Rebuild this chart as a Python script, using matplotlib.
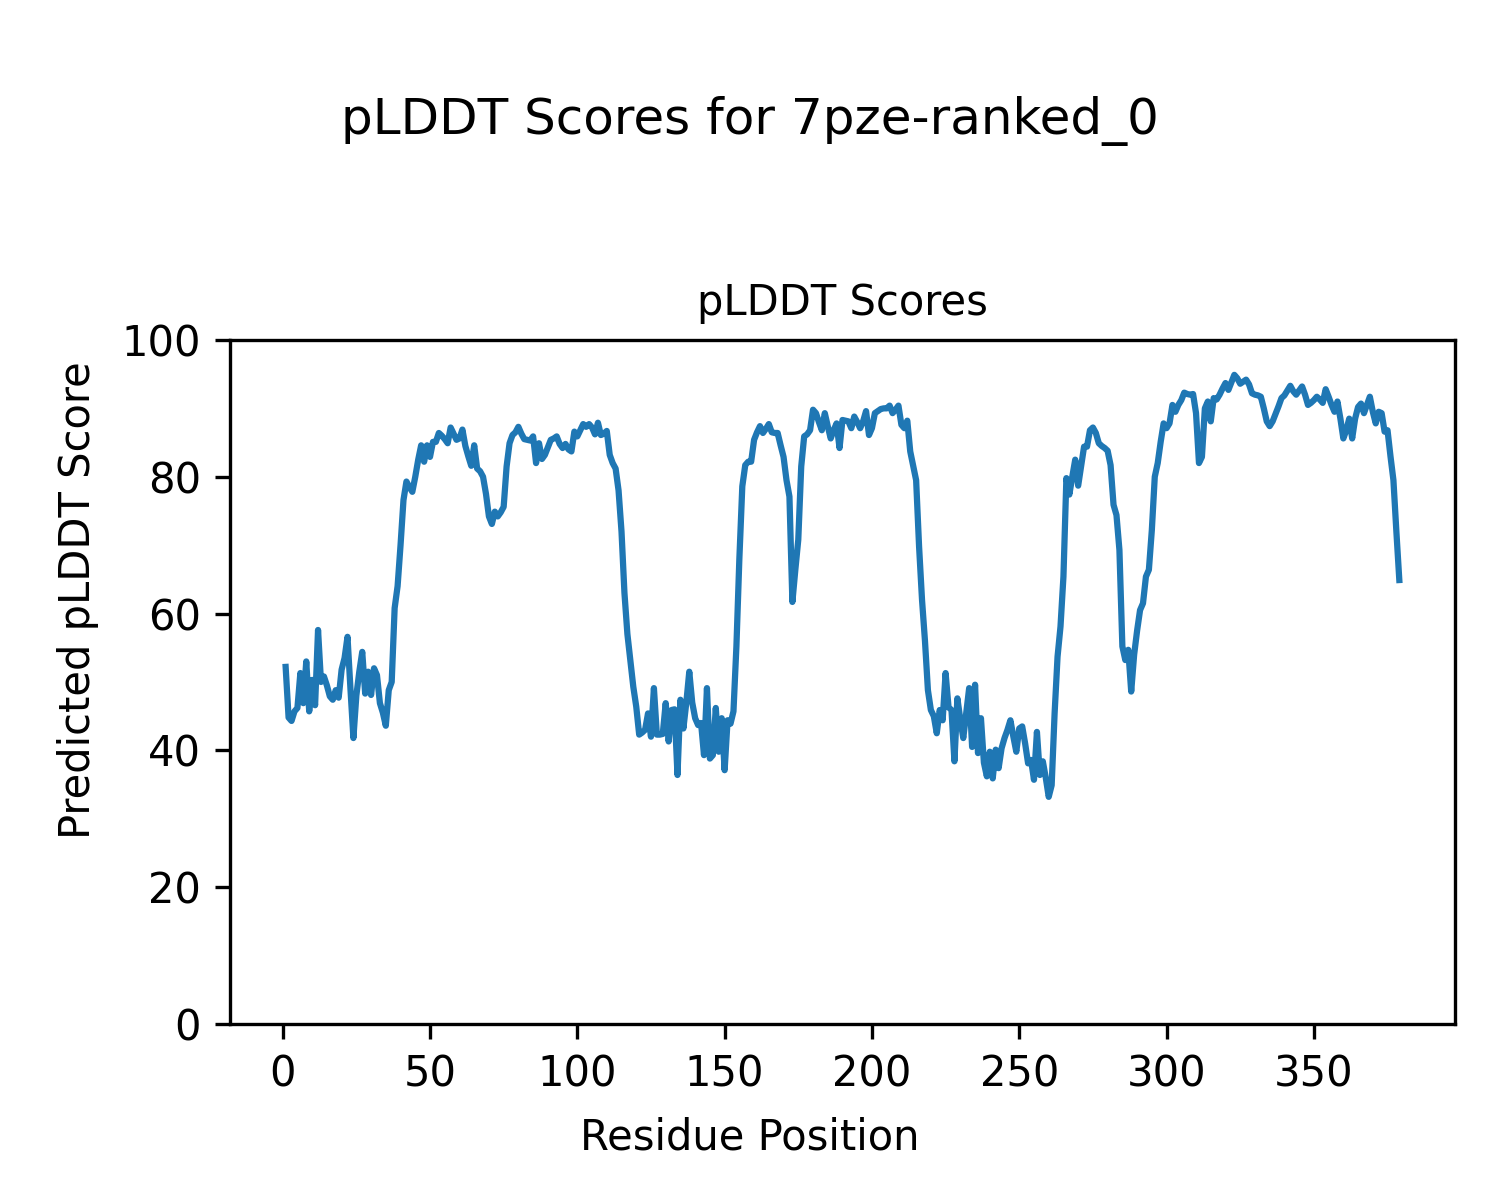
import matplotlib
matplotlib.use("Agg")
import matplotlib.pyplot as plt
import numpy as np

residues = list(range(1, 380))
plddt = [
    52.2, 44.8, 44.3, 45.7, 46.2, 51.3, 46.9, 53.0, 45.7, 50.3,
    46.6, 57.6, 50.0, 50.8, 49.5, 47.9, 47.4, 48.8, 47.7, 51.8,
    53.5, 56.6, 49.0, 41.8, 48.0, 51.5, 54.4, 48.3, 51.5, 48.1,
    52.0, 51.0, 46.9, 45.5, 43.6, 48.8, 50.0, 60.8, 64.0, 70.0,
    76.6, 79.3, 78.5, 77.8, 80.0, 82.5, 84.6, 82.2, 84.6, 82.9,
    85.1, 85.1, 86.4, 86.0, 85.5, 84.9, 87.2, 86.3, 85.4, 85.6,
    86.9, 84.5, 83.0, 81.6, 84.6, 81.2, 80.8, 80.0, 77.5, 74.2,
    73.1, 74.9, 74.2, 74.8, 75.6, 81.5, 84.9, 86.1, 86.5, 87.3,
    86.3, 85.5, 85.4, 85.3, 85.9, 82.0, 84.9, 82.6, 83.2, 84.3,
    85.4, 85.6, 85.9, 84.8, 84.2, 84.8, 84.0, 83.7, 86.6, 85.9,
    86.8, 87.7, 87.3, 87.7, 87.2, 86.2, 87.9, 86.1, 86.3, 86.7,
    83.2, 82.0, 81.2, 78.0, 72.0, 63.0, 57.0, 53.2, 49.3, 46.4,
    42.3, 42.6, 43.0, 45.4, 42.0, 49.1, 42.3, 42.3, 42.4, 46.9,
    41.3, 45.9, 46.0, 36.4, 47.4, 43.2, 47.0, 51.5, 47.0, 44.7,
    43.7, 44.0, 39.3, 49.1, 38.8, 39.3, 46.2, 39.8, 44.7, 37.1,
    44.4, 43.9, 45.7, 55.2, 68.0, 78.6, 81.7, 82.2, 82.2, 85.4,
    86.5, 87.4, 86.4, 87.0, 87.7, 86.5, 86.4, 86.4, 84.6, 82.9,
    79.5, 77.1, 61.7, 66.4, 70.8, 81.5, 85.9, 86.2, 86.8, 89.8,
    89.3, 88.0, 86.8, 89.3, 87.4, 85.6, 86.8, 87.8, 84.2, 88.3,
    88.2, 88.1, 87.1, 88.8, 88.0, 87.1, 88.1, 89.6, 86.1, 87.1,
    89.3, 89.6, 89.9, 90.0, 90.0, 90.4, 89.3, 89.8, 90.4, 87.6,
    87.1, 88.2, 83.7, 81.6, 79.5, 69.8, 62.0, 56.0, 48.8, 45.9,
    45.0, 42.5, 45.9, 44.4, 51.3, 46.3, 45.9, 38.4, 47.6, 44.5,
    41.8, 45.5, 49.1, 40.5, 49.6, 39.6, 44.7, 38.2, 36.2, 39.8,
    35.9, 40.1, 37.4, 40.3, 41.8, 43.0, 44.4, 42.0, 39.8, 43.2,
    43.5, 41.0, 38.1, 38.6, 35.7, 42.7, 36.4, 38.4, 36.0, 33.2,
    34.9, 45.4, 53.7, 58.1, 65.4, 79.8, 77.4, 80.0, 82.5, 78.7,
    81.5, 84.4, 84.4, 86.8, 87.2, 86.4, 84.9, 84.5, 84.2, 83.8,
    81.7, 75.9, 74.4, 69.3, 55.2, 53.2, 54.7, 48.6, 54.0, 57.5,
    60.5, 61.5, 65.4, 66.4, 72.2, 80.0, 82.0, 85.1, 87.8, 87.1,
    87.8, 90.5, 89.5, 90.5, 91.2, 92.3, 92.1, 92.0, 92.1, 89.3,
    82.0, 82.9, 90.0, 91.0, 88.1, 91.5, 91.3, 92.0, 92.9, 93.7,
    92.7, 93.8, 94.9, 94.4, 93.6, 93.9, 94.2, 93.5, 92.2, 92.0,
    91.9, 91.7, 90.0, 88.1, 87.4, 88.1, 89.2, 90.3, 91.5, 91.9,
    92.6, 93.3, 92.5, 92.0, 92.6, 93.2, 92.0, 90.5, 90.8, 91.2,
    91.7, 91.3, 90.8, 92.8, 91.7, 90.5, 89.5, 91.0, 88.5, 85.6,
    86.8, 88.5, 85.6, 88.5, 90.2, 90.7, 89.3, 90.5, 91.7, 89.5,
    87.8, 89.5, 89.3, 86.6, 86.8, 83.0, 79.5, 72.0, 64.9,
]

fig = plt.figure(figsize=(5, 4), dpi=300)
ax = fig.add_axes([0.1533, 0.1467, 0.97 - 0.1533, 0.7167 - 0.1467])
ax.plot(residues, plddt, color="#1f77b4", linewidth=1.5)
ax.set_ylim(0, 100)
ax.set_title("pLDDT Scores", fontsize=10)
fig.text(0.5, 0.0517, "Residue Position", ha="center", va="center", fontsize=10)
fig.text(0.0523, 0.5, "Predicted pLDDT Score", ha="center", va="center",
         rotation=90, fontsize=10)
fig.suptitle("pLDDT Scores for 7pze-ranked_0", fontsize=12, y=0.92)
fig.savefig("out.png", dpi=300)
